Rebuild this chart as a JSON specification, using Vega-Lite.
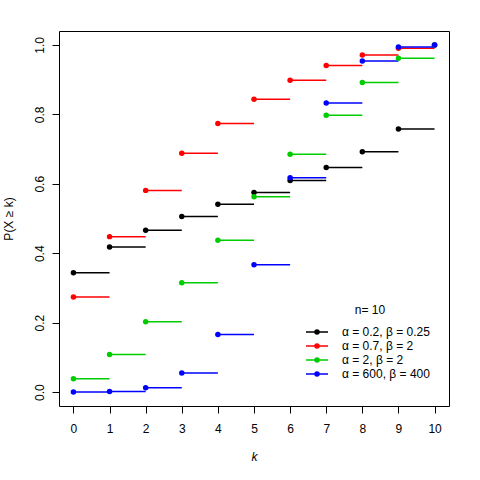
{
  "$schema": "https://vega.github.io/schema/vega-lite/v6.json",
  "width": 390,
  "height": 375,
  "autosize": {"type": "none"},
  "padding": {"left": 59, "top": 31, "right": 31, "bottom": 74},
  "background": "white",
  "config": {
    "view": {"stroke": "black", "strokeWidth": 1},
    "font": "Liberation Sans",
    "axis": {
      "domain": false, "grid": false, "tickColor": "black", "tickSize": 7,
      "labelColor": "black", "titleColor": "black", "labelFontSize": 12,
      "titleFontSize": 12, "titleFontWeight": "normal", "labelOverlap": false,
      "labelFont": "Liberation Sans", "titleFont": "Liberation Sans"
    },
    "legend": {
      "labelFont": "Liberation Sans", "titleFont": "Liberation Sans",
      "labelFontSize": 12, "titleFontSize": 12, "titleFontWeight": "normal",
      "labelColor": "black", "titleColor": "black"
    }
  },
  "data": {
    "values": [
      {"s": "α = 0.2, β = 0.25", "k": 0, "k1": 1, "p": 0.3435},
      {"s": "α = 0.2, β = 0.25", "k": 1, "k1": 2, "p": 0.4178},
      {"s": "α = 0.2, β = 0.25", "k": 2, "k1": 3, "p": 0.4664},
      {"s": "α = 0.2, β = 0.25", "k": 3, "k1": 4, "p": 0.5057},
      {"s": "α = 0.2, β = 0.25", "k": 4, "k1": 5, "p": 0.5410},
      {"s": "α = 0.2, β = 0.25", "k": 5, "k1": 6, "p": 0.5748},
      {"s": "α = 0.2, β = 0.25", "k": 6, "k1": 7, "p": 0.6093},
      {"s": "α = 0.2, β = 0.25", "k": 7, "k1": 8, "p": 0.6469},
      {"s": "α = 0.2, β = 0.25", "k": 8, "k1": 9, "p": 0.6921},
      {"s": "α = 0.2, β = 0.25", "k": 9, "k1": 10, "p": 0.7579},
      {"s": "α = 0.2, β = 0.25", "k": 10, "k1": 11, "p": 1.0},
      {"s": "α = 0.7, β = 2", "k": 0, "k1": 1, "p": 0.2737},
      {"s": "α = 0.7, β = 2", "k": 1, "k1": 2, "p": 0.4478},
      {"s": "α = 0.7, β = 2", "k": 2, "k1": 3, "p": 0.5810},
      {"s": "α = 0.7, β = 2", "k": 3, "k1": 4, "p": 0.6876},
      {"s": "α = 0.7, β = 2", "k": 4, "k1": 5, "p": 0.7739},
      {"s": "α = 0.7, β = 2", "k": 5, "k1": 6, "p": 0.8434},
      {"s": "α = 0.7, β = 2", "k": 6, "k1": 7, "p": 0.8984},
      {"s": "α = 0.7, β = 2", "k": 7, "k1": 8, "p": 0.9405},
      {"s": "α = 0.7, β = 2", "k": 8, "k1": 9, "p": 0.9709},
      {"s": "α = 0.7, β = 2", "k": 9, "k1": 10, "p": 0.9905},
      {"s": "α = 0.7, β = 2", "k": 10, "k1": 11, "p": 1.0},
      {"s": "α = 2, β = 2", "k": 0, "k1": 1, "p": 0.0385},
      {"s": "α = 2, β = 2", "k": 1, "k1": 2, "p": 0.1084},
      {"s": "α = 2, β = 2", "k": 2, "k1": 3, "p": 0.2028},
      {"s": "α = 2, β = 2", "k": 3, "k1": 4, "p": 0.3147},
      {"s": "α = 2, β = 2", "k": 4, "k1": 5, "p": 0.4371},
      {"s": "α = 2, β = 2", "k": 5, "k1": 6, "p": 0.5629},
      {"s": "α = 2, β = 2", "k": 6, "k1": 7, "p": 0.6853},
      {"s": "α = 2, β = 2", "k": 7, "k1": 8, "p": 0.7972},
      {"s": "α = 2, β = 2", "k": 8, "k1": 9, "p": 0.8916},
      {"s": "α = 2, β = 2", "k": 9, "k1": 10, "p": 0.9615},
      {"s": "α = 2, β = 2", "k": 10, "k1": 11, "p": 1.0},
      {"s": "α = 600, β = 400", "k": 0, "k1": 1, "p": 0.0001},
      {"s": "α = 600, β = 400", "k": 1, "k1": 2, "p": 0.0017},
      {"s": "α = 600, β = 400", "k": 2, "k1": 3, "p": 0.0123},
      {"s": "α = 600, β = 400", "k": 3, "k1": 4, "p": 0.0548},
      {"s": "α = 600, β = 400", "k": 4, "k1": 5, "p": 0.1662},
      {"s": "α = 600, β = 400", "k": 5, "k1": 6, "p": 0.3669},
      {"s": "α = 600, β = 400", "k": 6, "k1": 7, "p": 0.6177},
      {"s": "α = 600, β = 400", "k": 7, "k1": 8, "p": 0.8327},
      {"s": "α = 600, β = 400", "k": 8, "k1": 9, "p": 0.9536},
      {"s": "α = 600, β = 400", "k": 9, "k1": 10, "p": 0.9940},
      {"s": "α = 600, β = 400", "k": 10, "k1": 11, "p": 1.0}
    ]
  },
  "encoding": {
    "x": {
      "field": "k", "type": "quantitative",
      "scale": {"domain": [-0.4, 10.4], "nice": false, "zero": false},
      "axis": {"values": [0,1,2,3,4,5,6,7,8,9,10], "tickCount": 11, "labelOverlap": false, "format": "d", "title": "k", "titleFontStyle": "italic", "labelPadding": 10, "titlePadding": 17}
    },
    "y": {
      "field": "p", "type": "quantitative",
      "scale": {"domain": [-0.04, 1.04], "nice": false, "zero": false},
      "axis": {"values": [0, 0.2, 0.4, 0.6, 0.8, 1.0], "format": ".1f", "title": "P(X ≥ k)", "labelAngle": 270, "labelPadding": 6, "titlePadding": 18}
    },
    "color": {
      "field": "s", "type": "nominal",
      "scale": {
        "domain": ["α = 0.2, β = 0.25", "α = 0.7, β = 2", "α = 2, β = 2", "α = 600, β = 400"],
        "range": ["#000000", "#FF0000", "#00CD00", "#0000FF"]
      },
      "legend": {
        "title": "n= 10", "orient": "none", "legendX": 252, "legendY": 274,
        "symbolType": "M-2.2,0H-0.4A0.4,0.4 0 0,1 0.4,0H2.2M0.4,0A0.4,0.4 0 0,1 -0.4,0",
        "symbolSize": 100, "symbolStrokeWidth": 1.5, "labelOffset": 19,
        "rowPadding": 2, "titleAnchor": "middle", "titleAlign": "center", "titlePadding": 9, "padding": 0,
        "encode": {"symbols": {"update": {
          "fill": {"scale": "color", "field": "value"},
          "stroke": {"scale": "color", "field": "value"},
          "opacity": {"value": 1}
        }}}
      }
    }
  },
  "layer": [
    {
      "transform": [{"filter": "datum.k < 10"}],
      "mark": {"type": "rule", "strokeWidth": 1.5},
      "encoding": {"x2": {"field": "k1"}}
    },
    {
      "mark": {"type": "point", "filled": true, "size": 30, "opacity": 1},
      "encoding": {}
    }
  ]
}
